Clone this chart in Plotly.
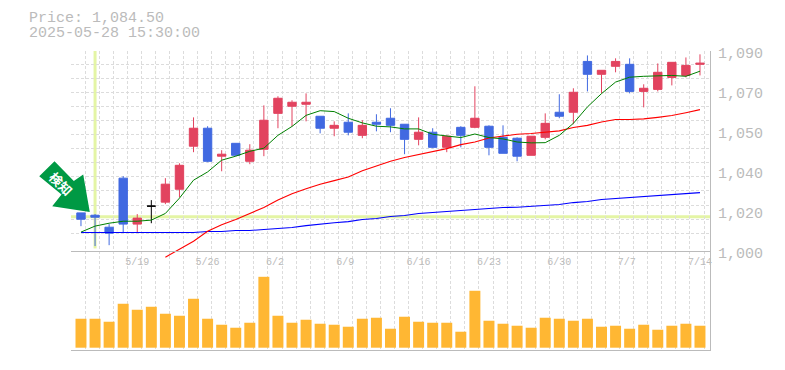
import plotly.graph_objects as go

W, H = 785, 370
BODY = 8
LEFT, RIGHT, TOP, BOTTOM = 70.5, 710.5, 50.6, 350.0
FONT = "Liberation Mono"
GREY = "#bbbbbb"

dates_idx = list(range(45))
opens = [1017.05,1016.0,1010.6,1032.7,1012.0,1020.1,1021.9,1027.7,1047.1,1055.2,1042.6,1048.4,1040.3,1045.7,1061.9,1065.1,1066.0,1060.6,1055.2,1057.9,1052.0,1057.9,1059.7,1057.0,1050.2,1053.4,1046.6,1055.6,1055.6,1056.1,1051.1,1050.7,1043.0,1051.1,1062.4,1062.4,1085.3,1079.5,1083.1,1084.0,1071.8,1072.7,1078.1,1079.0,1084.0]
closes = [1014.2,1015.1,1007.9,1012.0,1014.7,1020.1,1030.0,1038.5,1055.2,1040.3,1043.5,1043.0,1045.3,1058.8,1068.7,1066.9,1066.9,1055.2,1056.5,1053.4,1056.5,1057.0,1056.5,1050.2,1053.4,1046.6,1051.6,1052.0,1059.7,1046.6,1043.9,1042.6,1051.6,1057.4,1060.6,1071.4,1079.5,1081.3,1085.3,1071.8,1073.2,1080.4,1084.9,1083.5,1084.5]
highs = [1017.05,1016.5,1012.0,1033.6,1016.5,1022.8,1032.7,1039.4,1060.1,1056.1,1045.3,1048.4,1048.0,1065.5,1069.6,1067.8,1070.9,1060.6,1058.3,1061.9,1058.8,1061.5,1064.2,1057.0,1060.1,1055.2,1052.0,1056.1,1074.1,1056.5,1056.5,1051.1,1051.6,1061.9,1070.5,1073.2,1088.0,1081.3,1086.7,1086.7,1075.0,1084.4,1084.9,1087.1,1088.5]
lows = [1011.07,1002.1,1002.5,1008.4,1008.1,1012.4,1021.0,1024.1,1044.4,1039.9,1035.8,1042.6,1039.0,1042.6,1055.2,1056.1,1058.3,1052.9,1051.6,1052.0,1050.7,1053.8,1053.4,1043.5,1047.5,1046.2,1044.4,1046.6,1055.2,1043.0,1043.9,1040.3,1043.0,1050.2,1059.7,1057.0,1071.8,1070.9,1080.4,1070.9,1064.6,1071.8,1074.5,1078.1,1079.0]
ma_short = [1008.4,1011.1,1012.4,1013.3,1013.3,1013.8,1016.8,1023.7,1031.8,1035.5,1040.8,1042.6,1044.8,1046.2,1052.0,1056.0,1061.0,1063.1,1062.7,1059.7,1057.6,1056.1,1055.8,1054.9,1054.9,1052.5,1051.7,1051.0,1052.6,1051.0,1050.4,1049.0,1048.6,1048.7,1052.0,1057.4,1064.8,1070.8,1076.0,1078.2,1078.6,1078.7,1079.0,1078.6,1080.9]
ma_mid_idx = list(range(6, 45))
ma_mid = [997.1,1000.7,1004.3,1008.8,1011.7,1014.1,1016.8,1019.5,1022.9,1025.7,1027.9,1030.0,1031.6,1033.2,1036.0,1038.2,1040.3,1042.0,1043.3,1044.4,1046.0,1047.8,1049.0,1050.8,1051.6,1052.5,1052.8,1053.5,1054.0,1055.5,1056.5,1058.0,1059.1,1059.1,1059.4,1060.1,1060.9,1062.2,1063.6]
ma_long = [1008.2,1008.2,1008.2,1008.2,1008.2,1008.2,1008.2,1008.2,1008.2,1008.7,1008.7,1009.1,1009.1,1009.6,1010.0,1010.5,1011.3,1012.1,1012.6,1013.1,1014.1,1014.5,1015.4,1015.9,1016.8,1017.2,1017.7,1018.1,1018.6,1019.0,1019.5,1019.6,1019.9,1020.4,1020.8,1021.7,1022.2,1023.1,1023.5,1024.0,1024.4,1024.9,1025.3,1025.8,1026.2]
volumes = [29,29,26,44,38,41,34,32,49,29,23,20,25,71,32,25,28,24,23,21,29,30,19,31,26,25,25,16,57,27,24,22,20,30,29,27,29,21,22,19,23,18,22,24,22]
tick_idx = [4,9,14,19,24,29,34,39,44]
tick_text = ["5/19","5/26","6/2\u00a0","6/9\u00a0","6/16","6/23","6/30","7/7\u00a0","7/14"]
price_ticks = [1090,1072,1054,1036,1018,1000]
price_text = ["1,090","1,070","1,050","1,040","1,020","1,000"]
price_grid = [1090,1083.7,1077.4,1071.1,1064.8,1058.5,1052.2,1045.9,1039.6,1033.3,1027.0,1020.4,1014.0,1007.9]
marker_level = 1015.3
marker_idx = 1
title_lines = ["Price: 1,084.50", "2025-05-28 15:30:00"]
arrow_text = "<b>\u691c\u77e5</b>"
arrow_px = [(89.3,211.7),(51.7,206),(61,194.3),(38.7,176),(54,161),(73.3,180.7),(82.7,174.3)]

RED, BLUE = "#e2435f", "#4169e1"
BAND = "#e4f5a5"
GRID = "#dcdcdc"

def px(x): return (x - LEFT) / (RIGHT - LEFT)
def py(y): return (BOTTOM - y) / (BOTTOM - TOP)

n = len(opens)
up = [i for i in range(n) if closes[i] > opens[i]]
down = [i for i in range(n) if closes[i] < opens[i]]
flat = [i for i in range(n) if closes[i] == opens[i]]

def candle(idx, color):
    return go.Candlestick(
        x=idx, open=[opens[i] for i in idx], high=[highs[i] for i in idx],
        low=[lows[i] for i in idx], close=[closes[i] for i in idx],
        increasing=dict(line=dict(color=color, width=1), fillcolor=color),
        decreasing=dict(line=dict(color=color, width=1), fillcolor=color),
        whiskerwidth=0, showlegend=False, hoverinfo="skip")

fig = go.Figure()
fig.add_bar(x=dates_idx, y=volumes, xaxis="x2", yaxis="y2", width=0.78,
            marker=dict(color="#ffb733", line_width=0), showlegend=False)
fig.add_scatter(x=dates_idx, y=ma_long, mode="lines", line=dict(color="#0000ff", width=1.1), showlegend=False)
fig.add_scatter(x=ma_mid_idx, y=ma_mid, mode="lines", line=dict(color="#ff0000", width=1.1), showlegend=False)
fig.add_scatter(x=dates_idx, y=ma_short, mode="lines", line=dict(color="#008000", width=1), showlegend=False)
fig.add_trace(candle(up, RED))
fig.add_trace(candle(down, BLUE))
fig.add_trace(candle(flat, "#000000"))

xr = [(LEFT - 80.5) / 14.09, (RIGHT - 80.5) / 14.09]
yr = [1000 - (BOTTOM - 250.6) * 0.45, 1090 + (50.6 - TOP) * 0.45]
path = "M" + " L".join(f"{px(a):.4f},{py(b):.4f}" for a, b in arrow_px) + " Z"

fig.update_layout(
    width=W - BODY, height=H - BODY, autosize=False,
    margin=dict(l=LEFT - BODY, r=W - RIGHT, t=TOP - BODY, b=H - BOTTOM),
    paper_bgcolor="white", plot_bgcolor="white",
    font=dict(family=FONT, color=GREY, size=15),
    boxmode="overlay", boxgap=0.15,
    xaxis=dict(range=xr, domain=[0, 1], anchor="free", position=py(250.6), side="bottom",
               tickmode="array", tickvals=tick_idx, ticktext=tick_text, ticks="",
               tickfont=dict(size=10, color=GREY), ticklabelshift=0, ticklabelstandoff=1,
               showgrid=False, showline=True, linecolor=GREY, linewidth=1, zeroline=False,
               rangeslider=dict(visible=False),
               minor=dict(tickmode="linear", tick0=xr[0], dtick=1, showgrid=True,
                          gridcolor=GRID, griddash="3px,2px", gridwidth=1, ticks="")),
    xaxis2=dict(range=xr, domain=[0, 1], overlaying="x", anchor="y2", side="bottom",
                showticklabels=False, ticks="", showgrid=False, showline=True,
                linecolor=GREY, linewidth=1, zeroline=False),
    yaxis=dict(range=yr, domain=[0, 1], side="right", anchor="x",
               tickmode="array", tickvals=price_ticks, ticktext=price_text, ticks="",
               ticklabelshift=2, ticklabelstandoff=4,
               showgrid=False, showline=True, linecolor=GREY, linewidth=1, zeroline=False,
               minor=dict(tickmode="array", tickvals=price_grid, showgrid=True,
                          gridcolor=GRID, griddash="3px,2px", gridwidth=1, ticks="")),
    yaxis2=dict(range=[-2.3, 297.1], domain=[0, 1], overlaying="y", anchor="x2", visible=False),
    shapes=[
        dict(type="line", xref="x", yref="paper", x0=marker_idx, x1=marker_idx, y0=py(248.3), y1=1,
             line=dict(color=BAND, width=3), layer="between"),
        dict(type="line", xref="paper", yref="y", x0=0, x1=1, y0=marker_level, y1=marker_level,
             line=dict(color=BAND, width=3), layer="between"),
        dict(type="path", xref="paper", yref="paper", path=path, fillcolor="#009944", line_width=0, layer="above"),
    ],
    annotations=[
        dict(text=title_lines[0], xref="paper", yref="paper", x=px(27.5), y=py(18), xanchor="left", yanchor="middle",
             showarrow=False, height=14, borderpad=0, font=dict(size=15, color=GREY)),
        dict(text=title_lines[1], xref="paper", yref="paper", x=px(27.5), y=py(33), xanchor="left", yanchor="middle",
             showarrow=False, height=14, borderpad=0, font=dict(size=15, color=GREY)),
        dict(text=arrow_text, xref="paper", yref="paper", x=px(60.4), y=py(183.5), xanchor="center", yanchor="middle",
             showarrow=False, textangle=45, font=dict(size=13, color="white", family="Noto Sans CJK JP")),
    ],
)
fig.write_html("out.html")
